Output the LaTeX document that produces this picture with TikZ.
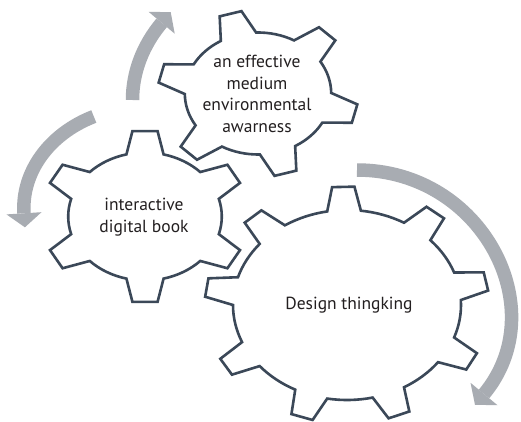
\documentclass[tikz,border=0pt]{standalone}
\usepackage{fontspec}
\setmainfont{PT Sans}
\definecolor{gearcol}{HTML}{3B4858}
\definecolor{arrowcol}{HTML}{A8ACB2}
\definecolor{textcol}{HTML}{231F20}
\newcommand\drawgear[8]{%
  \begin{scope}[shift={(#1,#2)}, xscale=1.2, yscale=-1]
    \pgfmathsetmacro\gearper{360/#3}
    \path[gearline] ({#4-#8/2}:#6)
      \foreach \i in {1,...,#3}{
        -- ({#4+(\i-1)*\gearper-#7/2}:#5)
        -- ({#4+(\i-1)*\gearper+#7/2}:#5)
        -- ({#4+(\i-1)*\gearper+#8/2}:#6)
        arc[start angle={#4+(\i-1)*\gearper+#8/2}, end angle={#4+\i*\gearper-#8/2}, radius=#6]
      } -- cycle;
  \end{scope}}
\begin{document}
\begin{tikzpicture}[x=1pt,y=-1pt,
  gearline/.style={draw=gearcol, line width=2.6pt, line join=miter, fill=white},
  arrowbody/.style={draw=arrowcol, line width=13.5pt},
  arrowhead/.style={fill=arrowcol},
  gtext/.style={font=\fontsize{17.5}{21.5}\selectfont, text=textcol, align=center, inner sep=0pt}]
\fill[white] (0,0) rectangle (521,422);
\useasboundingbox (0,0) rectangle (521,422);
% arrows
\draw[arrowbody] (357,170) .. controls (482,170) and (554.4,309.3) .. (484,394);
\fill[arrowhead] (497.5,405.2) -- (475,404.8) -- (470.5,382.8) -- cycle;
\draw[arrowbody] (93.8,116.5) arc[start angle=-115, end angle=-183, x radius=121.2, y radius=101];
\fill[arrowhead] (41.5,212.2) -- (24.9,227.3) -- (6.5,214.4) -- cycle;
\draw[arrowbody] (132.5,100) arc[start angle=-180, end angle=-145, x radius=161.5, y radius=134.6];
\fill[arrowhead] (174.7,33.7) -- (170.7,12.1) -- (148.7,11.9) -- cycle;
% gears
\drawgear{258}{93.5}{6}{106}{83.5}{61}{13}{29}
\drawgear{145}{216.5}{6}{90}{86}{64}{14}{28}
\drawgear{347}{305}{9}{91.5}{118.5}{95}{9}{17}
% labels
\node[gtext] (awareness) at (257,94) {an effective\\medium\\environmental\\awarness};
\node[gtext] (book) at (144,217) {interactive\\digital book};
\node[gtext] (design) at (349,305) {Design thingking};
\end{tikzpicture}
\end{document}
